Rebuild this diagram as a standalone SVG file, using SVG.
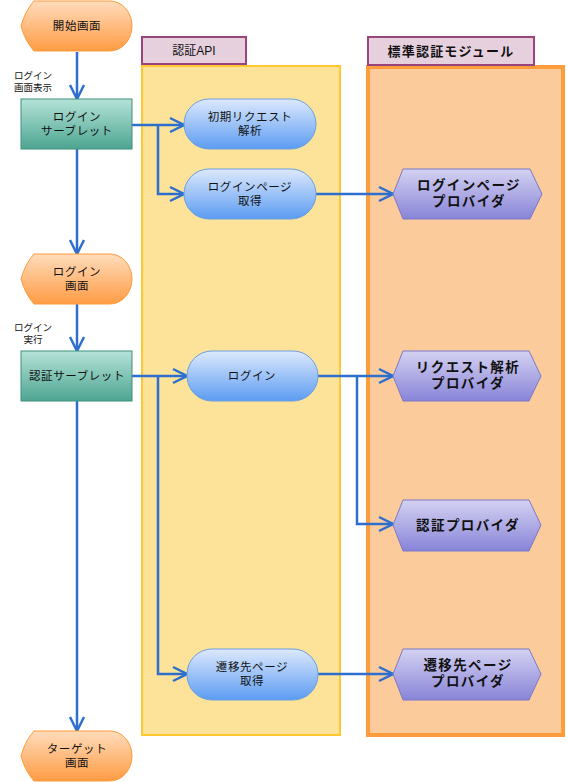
<svg xmlns="http://www.w3.org/2000/svg" width="566" height="782" viewBox="0 0 566 782">
<defs>
<linearGradient id="gTerm" x1="0" y1="0" x2="0" y2="1"><stop offset="0" stop-color="#ffdcbc"/><stop offset="1" stop-color="#ff9c45"/></linearGradient>
<linearGradient id="gServ" x1="0" y1="0" x2="0" y2="1"><stop offset="0" stop-color="#b5e3d8"/><stop offset="1" stop-color="#4da591"/></linearGradient>
<linearGradient id="gPill" x1="0" y1="0" x2="0" y2="1"><stop offset="0" stop-color="#dde9fd"/><stop offset="1" stop-color="#5c9cf2"/></linearGradient>
<linearGradient id="gHex" x1="0" y1="0" x2="0" y2="1"><stop offset="0" stop-color="#d4d2f2"/><stop offset="1" stop-color="#8884d8"/></linearGradient>
<marker id="arr" viewBox="-1 -9 17 18" markerWidth="17" markerHeight="18" markerUnits="userSpaceOnUse" refX="14" refY="0" orient="auto">
<path d="M0,-7 L14,0 L0,7" fill="none" stroke="#2e6fce" stroke-width="2.5"/>
</marker>
<path id="term" d="M34,0 L110,0 A22,25 0 0 1 110,50 L34,50 Q25,40 21,25 Q25,10 34,0 Z"/>
</defs>
<style>
.lbl{font-family:"Liberation Sans","Noto Sans CJK JP",sans-serif;fill:#111111;text-anchor:middle}
.n{font-size:11.5px;letter-spacing:0.6px}
.s{font-size:9.5px}
.b{font-size:13.5px;font-weight:bold;letter-spacing:1.4px}
.h{font-size:13px;font-weight:bold;letter-spacing:1.2px}
.a{font-size:12px}
.term{fill:url(#gTerm);stroke:#ff9a38;stroke-width:1}
.serv{fill:url(#gServ);stroke:#3e8f7e;stroke-width:1}
.pill{fill:url(#gPill);stroke:#6aa0e2;stroke-width:1}
.hex{fill:url(#gHex);stroke:#7b78c8;stroke-width:1}
.hdr{fill:#e6d0de;stroke:#99447c;stroke-width:2}
.conn{fill:none;stroke:#2e6fce;stroke-width:2.5}
</style>

<g id="lane-api">
<rect x="142" y="66" width="198" height="669" fill="#fde39a" stroke="#ffc82e" stroke-width="2"/>
<rect class="hdr" x="142" y="37" width="104" height="27"/>
<text class="lbl a" x="194" y="55">認証API</text>
</g>
<g id="lane-module">
<rect x="368" y="67" width="195" height="668" fill="#fccb9b" stroke="#ff9d3c" stroke-width="4"/>
<rect class="hdr" x="368" y="37" width="166" height="28"/>
<text class="lbl h" x="451" y="56">標準認証モジュール</text>
</g>

<g id="connectors">
<path class="conn" d="M77,52 V99" marker-end="url(#arr)"/>
<path class="conn" d="M77,149 V254" marker-end="url(#arr)"/>
<path class="conn" d="M77,304 V351" marker-end="url(#arr)"/>
<path class="conn" d="M77,401 V731" marker-end="url(#arr)"/>
<path class="conn" d="M132,125 H184" marker-end="url(#arr)"/>
<path class="conn" d="M158,125 V194 H184" marker-end="url(#arr)"/>
<path class="conn" d="M316,194 H393" marker-end="url(#arr)"/>
<path class="conn" d="M132,376 H187" marker-end="url(#arr)"/>
<path class="conn" d="M158,376 V674 H187" marker-end="url(#arr)"/>
<path class="conn" d="M318,376 H393" marker-end="url(#arr)"/>
<path class="conn" d="M357,376 V524 H393" marker-end="url(#arr)"/>
<path class="conn" d="M318,674 H393" marker-end="url(#arr)"/>
<text class="lbl s" x="33" y="79">ログイン<tspan x="33" dy="12">画面表示</tspan></text>
<text class="lbl s" x="33" y="331">ログイン<tspan x="33" dy="12">実行</tspan></text>
</g>

<g id="start">
<use href="#term" class="term" transform="translate(0,1)"/>
<text class="lbl n" x="77" y="30">開始画面</text>
</g>
<g id="login-servlet">
<rect class="serv" x="21" y="99" width="111" height="50"/>
<text class="lbl n" x="77" y="121">ログイン<tspan x="77" dy="14">サーブレット</tspan></text>
</g>
<g id="login-screen">
<use href="#term" class="term" transform="translate(0,254)"/>
<text class="lbl n" x="77" y="276">ログイン<tspan x="77" dy="14">画面</tspan></text>
</g>
<g id="auth-servlet">
<rect class="serv" x="21" y="351" width="111" height="50"/>
<text class="lbl n" x="77" y="380">認証サーブレット</text>
</g>
<g id="target-screen">
<use href="#term" class="term" transform="translate(0,731)"/>
<text class="lbl n" x="77" y="753">ターゲット<tspan x="77" dy="14">画面</tspan></text>
</g>

<g id="parse-request">
<rect class="pill" x="184" y="99" width="132" height="50" rx="25"/>
<text class="lbl n" x="250" y="121">初期リクエスト<tspan x="250" dy="14">解析</tspan></text>
</g>
<g id="get-login-page">
<rect class="pill" x="184" y="169" width="132" height="50" rx="25"/>
<text class="lbl n" x="250" y="191">ログインページ<tspan x="250" dy="14">取得</tspan></text>
</g>
<g id="login">
<rect class="pill" x="187" y="351" width="131" height="50" rx="25"/>
<text class="lbl n" x="252" y="380">ログイン</text>
</g>
<g id="get-target-page">
<rect class="pill" x="187" y="649" width="131" height="51" rx="25"/>
<text class="lbl n" x="252" y="671">遷移先ページ<tspan x="252" dy="14">取得</tspan></text>
</g>

<g id="login-page-provider">
<path class="hex" d="M393,194 L403,169 L530,169 L542,194 L530,219 L403,219 Z"/>
<text class="lbl b" x="469" y="190">ログインページ<tspan x="469" dy="16">プロバイダ</tspan></text>
</g>
<g id="request-parse-provider">
<path class="hex" d="M393,376 L403,351 L529,351 L541,376 L529,401 L403,401 Z"/>
<text class="lbl b" x="468" y="372">リクエスト解析<tspan x="468" dy="16">プロバイダ</tspan></text>
</g>
<g id="auth-provider">
<path class="hex" d="M393,525 L403,500 L529,500 L541,525 L529,551 L403,551 Z"/>
<text class="lbl b" x="468" y="530">認証プロバイダ</text>
</g>
<g id="target-page-provider">
<path class="hex" d="M393,674 L403,649 L529,649 L541,674 L529,700 L403,700 Z"/>
<text class="lbl b" x="468" y="670">遷移先ページ<tspan x="468" dy="16">プロバイダ</tspan></text>
</g>
</svg>
